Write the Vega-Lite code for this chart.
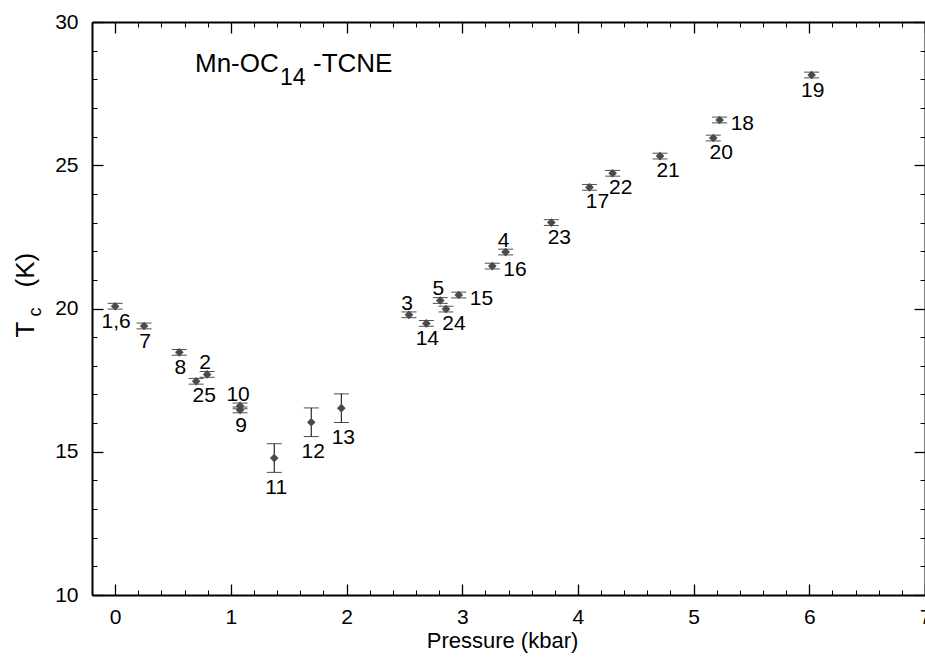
{
  "$schema": "https://vega.github.io/schema/vega-lite/v6.json",
  "width": 833,
  "height": 573,
  "autosize": {"type": "none"},
  "padding": {"left": 92, "top": 22, "right": 0, "bottom": 74},
  "background": "white",
  "data": {
    "values": [
      {"p": 0.0, "tc": 20.08, "err": 0.1, "label": "1,6", "pos": "below"},
      {"p": 0.25, "tc": 19.39, "err": 0.1, "label": "7", "pos": "below"},
      {"p": 0.555, "tc": 18.47, "err": 0.1, "label": "8", "pos": "below"},
      {"p": 0.70, "tc": 17.46, "err": 0.1, "label": "25", "pos": "belowright"},
      {"p": 0.795, "tc": 17.7, "err": 0.1, "label": "2", "pos": "above"},
      {"p": 1.08, "tc": 16.6, "err": 0.1, "label": "10", "pos": "above"},
      {"p": 1.08, "tc": 16.46, "err": 0.1, "label": "9", "pos": "below"},
      {"p": 1.375, "tc": 14.78, "err": 0.5, "label": "11", "pos": "belowbar"},
      {"p": 1.695, "tc": 16.03, "err": 0.5, "label": "12", "pos": "belowbar"},
      {"p": 1.955, "tc": 16.52, "err": 0.5, "label": "13", "pos": "belowbar"},
      {"p": 2.54, "tc": 19.78, "err": 0.1, "label": "3", "pos": "above"},
      {"p": 2.69, "tc": 19.48, "err": 0.1, "label": "14", "pos": "below"},
      {"p": 2.81, "tc": 20.28, "err": 0.1, "label": "5", "pos": "above"},
      {"p": 2.86, "tc": 19.98, "err": 0.1, "label": "24", "pos": "belowright"},
      {"p": 2.97, "tc": 20.47, "err": 0.1, "label": "15", "pos": "right"},
      {"p": 3.26, "tc": 21.48, "err": 0.1, "label": "16", "pos": "right"},
      {"p": 3.375, "tc": 21.97, "err": 0.1, "label": "4", "pos": "above"},
      {"p": 3.77, "tc": 23.0, "err": 0.1, "label": "23", "pos": "belowright"},
      {"p": 4.10, "tc": 24.23, "err": 0.1, "label": "17", "pos": "belowright"},
      {"p": 4.30, "tc": 24.72, "err": 0.1, "label": "22", "pos": "belowright"},
      {"p": 4.71, "tc": 25.32, "err": 0.1, "label": "21", "pos": "belowright"},
      {"p": 5.17, "tc": 25.95, "err": 0.1, "label": "20", "pos": "belowright"},
      {"p": 5.225, "tc": 26.58, "err": 0.1, "label": "18", "pos": "right"},
      {"p": 6.02, "tc": 28.15, "err": 0.1, "label": "19", "pos": "below"}
    ]
  },
  "layer": [
    {
      "mark": {"type": "errorbar", "color": "black", "thickness": 1, "ticks": {"size": 15, "thickness": 1, "color": "black"}},
      "encoding": {
        "x": {"field": "p", "type": "quantitative", "scale": {"domain": [-0.2, 7], "nice": false, "zero": false},
          "axis": {"orient": "bottom", "values": [0, 1, 2, 3, 4, 5, 6, 7], "format": "d", "tickSize": -11, "tickWidth": 1.3, "domainWidth": 2, "labelPadding": 22.5, "labelFlush": false, "labelOverlap": false, "title": "Pressure (kbar)", "titleFontSize": 22, "titleX": 410, "titleY": 52, "titleAlign": "center", "titleBaseline": "alphabetic"}},
        "y": {"field": "tc", "type": "quantitative", "scale": {"domain": [10, 30], "nice": false, "zero": false},
          "axis": {"orient": "left", "values": [10, 15, 20, 25, 30], "tickSize": -11, "tickWidth": 1.3, "domainWidth": 2, "labelPadding": 25, "labelOverlap": false, "title": "T", "titleFontSize": 26, "titleAngle": 270, "titleAlign": "left", "titleBaseline": "alphabetic", "titleX": -59, "titleY": 315}},
        "yError": {"field": "err"}
      }
    },
    {
      "mark": {"type": "point", "shape": "diamond", "filled": true, "size": 75, "color": "#4a4a4a", "opacity": 1},
      "encoding": {
        "x": {"field": "p", "type": "quantitative", "scale": {"domain": [-0.2, 7], "nice": false, "zero": false},
          "axis": {"orient": "top", "values": [0, 1, 2, 3, 4, 5, 6, 7], "tickSize": -11, "tickWidth": 1.3, "domainWidth": 2, "labels": false, "title": null}},
        "y": {"field": "tc", "type": "quantitative", "scale": {"domain": [10, 30], "nice": false, "zero": false},
          "axis": {"orient": "right", "values": [10, 15, 20, 25, 30], "tickSize": -11, "tickWidth": 1.3, "domainWidth": 2, "labels": false, "title": null}}
      }
    },
    {
      "transform": [{"filter": "datum.pos === 'below'"}],
      "mark": {"type": "text", "fontSize": 21, "dx": 1, "dy": 16, "align": "center", "baseline": "middle"},
      "encoding": {
        "x": {"field": "p", "type": "quantitative", "scale": {"domain": [-0.2, 7], "nice": false, "zero": false},
          "axis": {"orient": "bottom", "values": [0.2, 0.4, 0.6, 0.8, 1.2, 1.4, 1.6, 1.8, 2.2, 2.4, 2.6, 2.8, 3.2, 3.4, 3.6, 3.8, 4.2, 4.4, 4.6, 4.8, 5.2, 5.4, 5.6, 5.8, 6.2, 6.4, 6.6, 6.8], "tickSize": -5, "tickWidth": 1, "domain": false, "labels": false, "title": null}},
        "y": {"field": "tc", "type": "quantitative", "scale": {"domain": [10, 30], "nice": false, "zero": false},
          "axis": {"orient": "left", "values": [11, 12, 13, 14, 16, 17, 18, 19, 21, 22, 23, 24, 26, 27, 28, 29], "tickSize": -5, "tickWidth": 1, "domain": false, "labels": false, "title": "c", "titleFontSize": 18, "titleAngle": 270, "titleAlign": "left", "titleBaseline": "alphabetic", "titleX": -52, "titleY": 294}},
        "text": {"field": "label"}
      }
    },
    {
      "transform": [{"filter": "datum.pos === 'belowright'"}],
      "mark": {"type": "text", "fontSize": 21, "dx": 8, "dy": 15, "align": "center", "baseline": "middle"},
      "encoding": {
        "x": {"field": "p", "type": "quantitative", "scale": {"domain": [-0.2, 7], "nice": false, "zero": false},
          "axis": {"orient": "top", "values": [0.2, 0.4, 0.6, 0.8, 1.2, 1.4, 1.6, 1.8, 2.2, 2.4, 2.6, 2.8, 3.2, 3.4, 3.6, 3.8, 4.2, 4.4, 4.6, 4.8, 5.2, 5.4, 5.6, 5.8, 6.2, 6.4, 6.6, 6.8], "tickSize": -5, "tickWidth": 1, "domain": false, "labels": false, "title": null}},
        "y": {"field": "tc", "type": "quantitative", "scale": {"domain": [10, 30], "nice": false, "zero": false},
          "axis": {"orient": "right", "values": [11, 12, 13, 14, 16, 17, 18, 19, 21, 22, 23, 24, 26, 27, 28, 29], "tickSize": -5, "tickWidth": 1, "domain": false, "labels": false, "title": null}},
        "text": {"field": "label"}
      }
    },
    {
      "transform": [{"filter": "datum.pos === 'above'"}],
      "mark": {"type": "text", "fontSize": 21, "dx": -2, "dy": -11, "align": "center", "baseline": "middle"},
      "encoding": {
        "x": {"field": "p", "type": "quantitative", "scale": {"domain": [-0.2, 7], "nice": false, "zero": false}, "axis": null},
        "y": {"field": "tc", "type": "quantitative", "scale": {"domain": [10, 30], "nice": false, "zero": false},
          "axis": {"orient": "left", "ticks": false, "labels": false, "domain": false, "title": "(K)", "titleFontSize": 26, "titleAngle": 270, "titleAlign": "left", "titleBaseline": "alphabetic", "titleX": -59, "titleY": 265}},
        "text": {"field": "label"}
      }
    },
    {
      "transform": [{"filter": "datum.pos === 'right'"}],
      "mark": {"type": "text", "fontSize": 21, "dx": 11, "dy": 4, "align": "left", "baseline": "middle"},
      "encoding": {
        "x": {"field": "p", "type": "quantitative", "scale": {"domain": [-0.2, 7], "nice": false, "zero": false}, "axis": null},
        "y": {"field": "tc", "type": "quantitative", "scale": {"domain": [10, 30], "nice": false, "zero": false}, "axis": null},
        "text": {"field": "label"}
      }
    },
    {
      "transform": [{"filter": "datum.pos === 'belowbar'"}],
      "mark": {"type": "text", "fontSize": 21, "dx": 2, "dy": 30, "align": "center", "baseline": "middle"},
      "encoding": {
        "x": {"field": "p", "type": "quantitative", "scale": {"domain": [-0.2, 7], "nice": false, "zero": false}, "axis": null},
        "y": {"field": "tc", "type": "quantitative", "scale": {"domain": [10, 30], "nice": false, "zero": false}, "axis": null},
        "text": {"field": "label"}
      }
    },
    {
      "data": {"values": [{"t": "Mn-OC"}]},
      "mark": {"type": "text", "fontSize": 26, "align": "left", "baseline": "alphabetic"},
      "encoding": {
        "x": {"datum": 0.69, "type": "quantitative", "scale": {"domain": [-0.2, 7], "nice": false, "zero": false}, "axis": null},
        "y": {"datum": 28.25, "type": "quantitative", "scale": {"domain": [10, 30], "nice": false, "zero": false}, "axis": null},
        "text": {"field": "t"}
      }
    },
    {
      "data": {"values": [{"t": "14"}]},
      "mark": {"type": "text", "fontSize": 23, "align": "left", "baseline": "alphabetic", "dx": 85, "dy": 13},
      "encoding": {
        "x": {"datum": 0.69, "type": "quantitative", "scale": {"domain": [-0.2, 7], "nice": false, "zero": false}, "axis": null},
        "y": {"datum": 28.25, "type": "quantitative", "scale": {"domain": [10, 30], "nice": false, "zero": false}, "axis": null},
        "text": {"field": "t"}
      }
    },
    {
      "data": {"values": [{"t": "-TCNE"}]},
      "mark": {"type": "text", "fontSize": 26, "align": "left", "baseline": "alphabetic", "dx": 118},
      "encoding": {
        "x": {"datum": 0.69, "type": "quantitative", "scale": {"domain": [-0.2, 7], "nice": false, "zero": false}, "axis": null},
        "y": {"datum": 28.25, "type": "quantitative", "scale": {"domain": [10, 30], "nice": false, "zero": false}, "axis": null},
        "text": {"field": "t"}
      }
    }
  ],
  "resolve": {"axis": {"x": "independent", "y": "independent"}},
  "config": {
    "font": "Liberation Sans",
    "view": {"stroke": null},
    "axis": {"grid": false, "domainColor": "black", "tickColor": "black", "labelColor": "black", "titleColor": "black", "titleFontWeight": "normal", "labelFontSize": 21, "labelFont": "Liberation Sans", "titleFont": "Liberation Sans"},
    "text": {"font": "Liberation Sans", "color": "black"}
  }
}
